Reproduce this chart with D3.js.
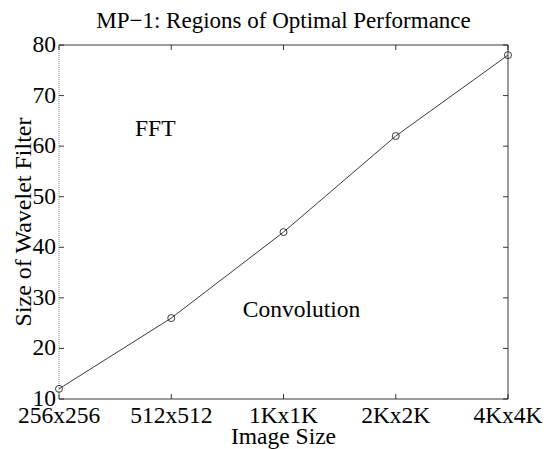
<!DOCTYPE html>
<html>
<head>
<meta charset="utf-8">
<script src="https://cdn.jsdelivr.net/npm/d3@7/dist/d3.min.js"></script>
<style>
  html, body { margin: 0; padding: 0; background: #fff; }
  svg { display: block; }
  text { font-family: "Liberation Serif", "DejaVu Serif", serif; fill: #000; }
</style>
</head>
<body>
<div id="chart"></div>
<script>
// Image sizes on the x axis and the filter size where FFT overtakes convolution
const imageSizes = ["256x256", "512x512", "1Kx1K", "2Kx2K", "4Kx4K"];
const filterSizes = [12, 26, 43, 62, 78];
const yTicks = [10, 20, 30, 40, 50, 60, 70, 80];
const regionLabels = [
  { text: "FFT", cat: "512x512", dx: -16, value: 62 },
  { text: "Convolution", cat: "1Kx1K", dx: 18, value: 26.3 }
];

const W = 546, H = 449;
const margin = { top: 45, right: 38, bottom: 50, left: 59 };
const fs = 23.5;

const svg = d3.select("#chart").append("svg")
  .attr("width", W).attr("height", H);

const x = d3.scalePoint().domain(imageSizes)
  .range([margin.left, W - margin.right]);
const y = d3.scaleLinear().domain([10, 80])
  .range([H - margin.bottom, margin.top]);

const x0 = margin.left, x1 = W - margin.right;
const y0 = H - margin.bottom, y1 = margin.top;
const tickLen = 5;

// Box frame: top, right, bottom solid; left edge dotted grey
const frame = svg.append("g").attr("stroke", "#222").attr("stroke-width", 0.9).attr("fill", "none");
frame.append("line").attr("x1", x0).attr("x2", x1).attr("y1", y1).attr("y2", y1);
frame.append("line").attr("x1", x1).attr("x2", x1).attr("y1", y1).attr("y2", y0);
frame.append("line").attr("x1", x0).attr("x2", x1).attr("y1", y0).attr("y2", y0);
svg.append("line").attr("x1", x0).attr("x2", x0).attr("y1", y1).attr("y2", y0)
  .attr("stroke", "#888").attr("stroke-width", 1).attr("stroke-dasharray", "1,1");

// Inward ticks on all four sides
const ticks = svg.append("g").attr("stroke", "#222").attr("stroke-width", 0.9);
imageSizes.forEach(c => {
  ticks.append("line").attr("x1", x(c)).attr("x2", x(c)).attr("y1", y0).attr("y2", y0 - tickLen);
  ticks.append("line").attr("x1", x(c)).attr("x2", x(c)).attr("y1", y1).attr("y2", y1 + tickLen);
});
yTicks.forEach(v => {
  ticks.append("line").attr("x1", x0).attr("x2", x0 + tickLen).attr("y1", y(v)).attr("y2", y(v));
  ticks.append("line").attr("x1", x1).attr("x2", x1 - tickLen).attr("y1", y(v)).attr("y2", y(v));
});

// Tick labels
svg.append("g").selectAll("text").data(imageSizes).join("text")
  .attr("x", d => x(d)).attr("y", y0 + 24)
  .attr("text-anchor", "middle").attr("font-size", fs).text(d => d);
svg.append("g").selectAll("text").data(yTicks).join("text")
  .attr("x", x0 - 3).attr("y", d => y(d) + 7)
  .attr("text-anchor", "end").attr("font-size", fs).text(d => d);

// Threshold line with circle markers
const line = d3.line().x((d, i) => x(imageSizes[i])).y(d => y(d));
svg.append("path").datum(filterSizes)
  .attr("d", line).attr("fill", "none").attr("stroke", "#222").attr("stroke-width", 0.9);
svg.append("g").selectAll("circle").data(filterSizes).join("circle")
  .attr("cx", (d, i) => x(imageSizes[i])).attr("cy", d => y(d)).attr("r", 3.5)
  .attr("fill", "none").attr("stroke", "#222").attr("stroke-width", 0.9);

// Region annotations
svg.append("g").selectAll("text").data(regionLabels).join("text")
  .attr("x", d => x(d.cat) + d.dx).attr("y", d => y(d.value))
  .attr("text-anchor", "middle").attr("font-size", fs).text(d => d.text);

// Title and axis labels
svg.append("text").attr("x", (x0 + x1) / 2).attr("y", 28)
  .attr("text-anchor", "middle").attr("font-size", 23)
  .text("MP\u22121: Regions of Optimal Performance");
svg.append("text").attr("x", (x0 + x1) / 2).attr("y", 444)
  .attr("text-anchor", "middle").attr("font-size", fs).text("Image Size");
svg.append("text")
  .attr("transform", `translate(31,${(y0 + y1) / 2}) rotate(-90)`)
  .attr("text-anchor", "middle").attr("font-size", 24).text("Size of Wavelet Filter");
</script>
</body>
</html>
